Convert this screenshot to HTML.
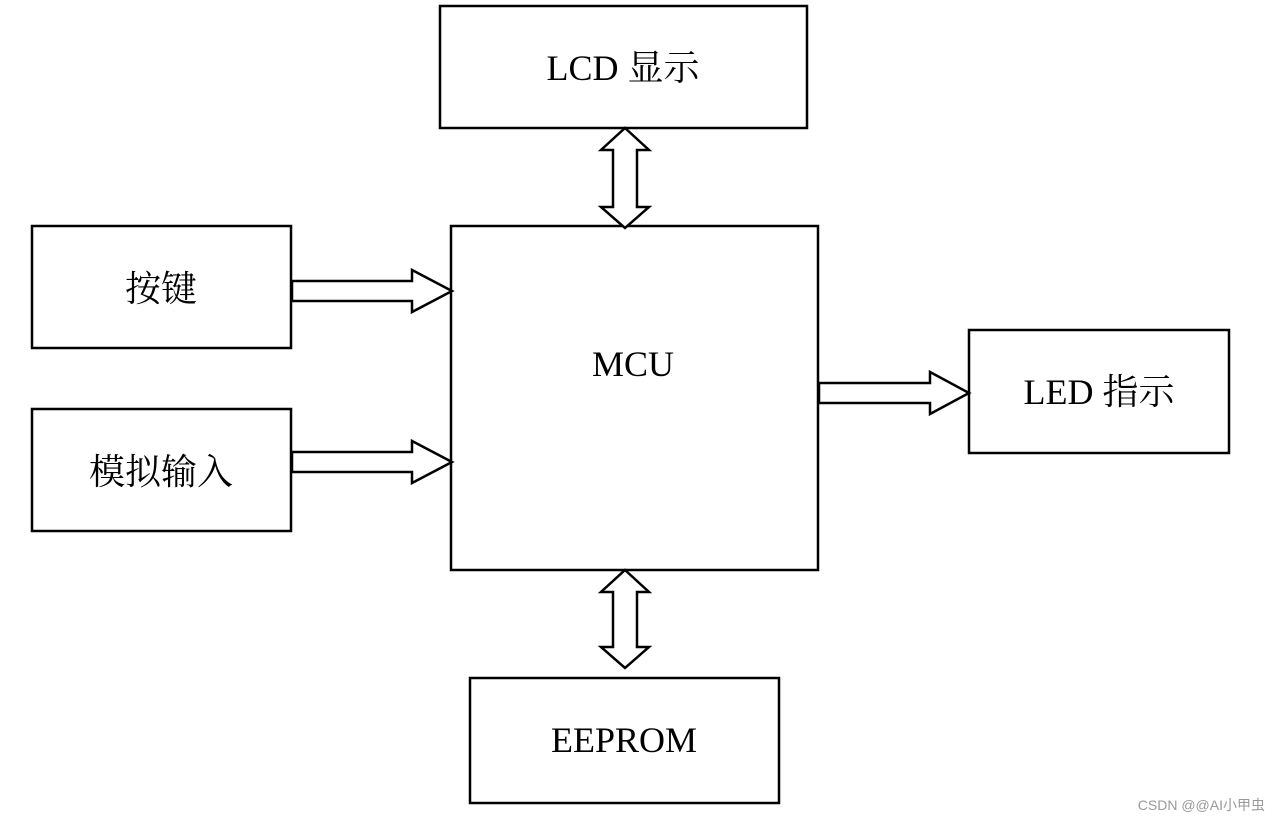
<!DOCTYPE html>
<html><head><meta charset="utf-8"><style>
body{margin:0;background:#fff;width:1282px;height:822px;overflow:hidden;position:relative}
svg{position:absolute;left:0;top:0}
</style></head><body>
<svg width="1282" height="822" viewBox="0 0 1282 822">
<g fill="none" stroke="#000" stroke-width="2.5">
<rect x="440" y="6" width="367" height="122"/>
<rect x="451" y="226" width="367" height="344"/>
<rect x="32" y="226" width="259" height="122"/>
<rect x="32" y="409" width="259" height="122"/>
<rect x="969" y="330" width="260" height="123"/>
<rect x="470" y="678" width="309" height="125"/>
</g>
<g fill="#fff" stroke="#000" stroke-width="2.5" stroke-linejoin="miter">
<polygon points="625,128 649,150 637,150 637,207 649,207 625,228 601,207 613,207 613,150 601,150"/>
<polygon points="625,570 649,592 637,592 637,647 649,647 625,668 601,647 613,647 613,592 601,592"/>
<polygon points="292,281 412,281 412,270 452,291 412,312 412,301 292,301"/>
<polygon points="292,452 412,452 412,441 452,462 412,483 412,472 292,472"/>
<polygon points="819,383 930,383 930,372 969,393 930,414 930,403 819,403"/>
</g>
<g font-family="Liberation Serif, Noto Serif CJK SC, serif" font-size="36" text-anchor="middle" fill="#000">
<text x="623" y="80">LCD 显示</text>
<text x="633" y="376">MCU</text>
<text x="161" y="301">按键</text>
<text x="161" y="484">模拟输入</text>
<text x="1099" y="404">LED 指示</text>
<text x="624" y="752">EEPROM</text>
</g>
<text x="1265" y="810" text-anchor="end" font-family="Liberation Sans, Noto Sans CJK SC, sans-serif" font-size="14" fill="#999">CSDN @@AI小甲虫</text>
</svg>
</body></html>
